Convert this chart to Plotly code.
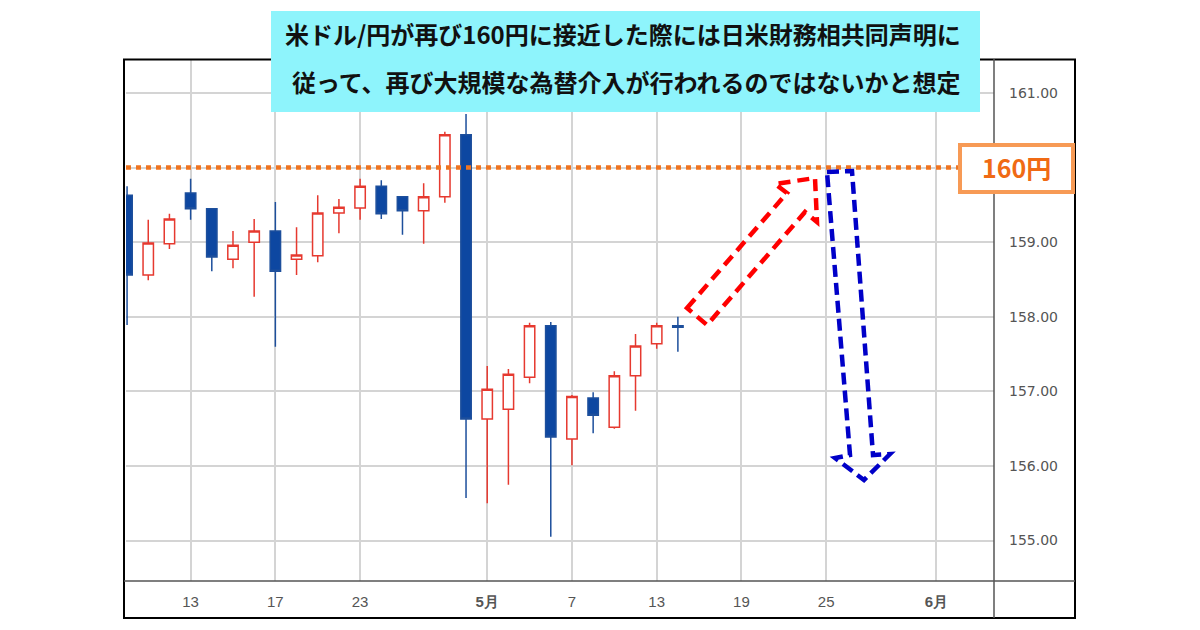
import plotly.graph_objects as go

# ---- data ----
idx = list(range(27))
opens  = [159.63,158.56,158.98,159.66,159.45,158.77,159.00,159.15,158.77,158.82,159.39,159.46,159.75,159.61,159.42,159.61,160.44,156.63,156.76,157.19,157.88,156.36,156.91,156.52,157.21,157.64,157.88]
highs  = [159.75,159.30,159.38,159.85,159.46,159.15,159.31,159.54,159.20,159.63,159.58,159.85,159.83,159.62,159.79,160.48,160.72,157.34,157.30,157.92,157.93,156.95,156.99,157.27,157.77,157.92,158.00]
lows   = [157.89,158.49,158.91,159.30,158.61,158.65,158.27,157.60,158.56,158.73,159.12,159.30,159.31,159.10,158.98,159.53,155.57,155.50,155.75,157.11,155.05,156.01,156.44,156.50,156.74,157.57,157.53]
closes = [158.56,158.99,159.31,159.45,158.80,158.96,159.15,158.61,158.83,159.39,159.47,159.75,159.38,159.42,159.61,160.44,156.63,157.03,157.23,157.88,156.39,156.93,156.68,157.21,157.61,157.88,157.86]

x_tick_pos = [3, 7, 11, 17, 21, 25, 29, 33, 38.2]
x_tick_labels = ['13', '17', '23', '<b>5月</b>', '7', '13', '19', '25', '<b>6月</b>']
y_tick_vals = [155, 156, 157, 158, 159, 160, 161]
y_tick_labels = ['155.00', '156.00', '157.00', '158.00', '159.00', '', '161.00']

level = 160
level_label = '160円'
title_lines = ['米ドル/円が再び160円に接近した際には日米財務相共同声明に',
               '従って、再び大規模な為替介入が行われるのではないかと想定']

# ---- layout geometry (pixels, in page coordinates) ----
OFF = 8                      # page body margin
W, H = 1200 - OFF, 630 - OFF
L, R, T, B = 126, 994, 59, 581

def px(x):
    return (x - L) / (R - L)

def py(y):
    return (B - y) / (B - T)

def path(points):
    return 'M ' + ' L '.join(f'{px(a):.5f},{py(b):.5f}' for a, b in points) + ' Z'

fig = go.Figure()
fig.add_trace(go.Candlestick(
    x=idx, open=opens, high=highs, low=lows, close=closes,
    increasing=dict(line=dict(color='#e6392f', width=1.5), fillcolor='#ffffff'),
    decreasing=dict(line=dict(color='#1d4f9c', width=1.5), fillcolor='#0d47a1'),
    whiskerwidth=0, showlegend=False, hoverinfo='skip'))

shapes = []
# outer frame
shapes.append(dict(type='rect', xref='paper', yref='paper', x0=px(124), x1=px(1075), y0=py(618), y1=py(59.5),
                   line=dict(color='#000000', width=2), layer='above'))
# x axis line
shapes.append(dict(type='line', xref='paper', yref='paper', x0=px(124), x1=px(1075), y0=py(581), y1=py(581),
                   line=dict(color='#555555', width=1.5), layer='above'))
# y axis line
shapes.append(dict(type='line', xref='paper', yref='paper', x0=px(994), x1=px(994), y0=py(618), y1=py(59),
                   line=dict(color='#555555', width=1.5), layer='above'))
# orange dotted level line
shapes.append(dict(type='line', xref='paper', yref='y', x0=0, x1=px(959), y0=level, y1=level,
                   line=dict(color='#f07420', width=4.5, dash='5px,5px'), layer='above'))
# level label box
shapes.append(dict(type='rect', xref='paper', yref='paper', x0=px(960), x1=px(1073), y0=py(192), y1=py(145),
                   fillcolor='#ffffff', line=dict(color='#f79a55', width=4), layer='above'))
# title box
shapes.append(dict(type='rect', xref='paper', yref='paper', x0=px(271), x1=px(980), y0=py(112), y1=py(11),
                   fillcolor='#8ef4fc', line=dict(width=0), layer='above'))
# red up arrow (outline, dashed)
shapes.append(dict(type='path', xref='paper', yref='paper',
                   path=path([(687, 308), (787, 193), (775, 184), (815, 178), (817, 222), (805, 212), (707, 325)]),
                   line=dict(color='#ff0000', width=4.5, dash='12px,7px'), fillcolor='rgba(0,0,0,0)', layer='above'))
# blue down arrow (outline, dashed)
shapes.append(dict(type='path', xref='paper', yref='paper',
                   path=path([(827, 172), (852, 171), (873, 455), (890, 454), (864, 480), (835, 458), (850, 455)]),
                   line=dict(color='#0000c8', width=4.5, dash='12px,6px'), fillcolor='rgba(0,0,0,0)', layer='above'))

title_font = dict(family='Noto Sans CJK JP', size=24, color='#111111', weight=700)
annotations = [
    dict(xref='paper', yref='paper', x=px(623), y=py(33), text=title_lines[0], showarrow=False,
         font=title_font, xanchor='center', yanchor='middle'),
    dict(xref='paper', yref='paper', x=px(626), y=py(81), text=title_lines[1], showarrow=False,
         font=title_font, xanchor='center', yanchor='middle'),
    dict(xref='paper', yref='paper', x=px(1016), y=py(167), text=level_label, showarrow=False,
         font=dict(family='Noto Sans CJK JP', size=25, color='#f06a14', weight=700), xanchor='center', yanchor='middle'),
]

fig.update_layout(
    width=W, height=H,
    margin=dict(l=L - OFF, r=(1200 - R), t=T - OFF, b=(630 - B), pad=0),
    paper_bgcolor='#ffffff', plot_bgcolor='#ffffff',
    shapes=shapes, annotations=annotations,
    xaxis=dict(range=[-0.05, (R - 127.3) / 21.18], tickvals=x_tick_pos, ticktext=x_tick_labels,
               showgrid=True, gridcolor='#d4d4d4', gridwidth=1.5, zeroline=False, showline=False,
               ticks='', ticklabelstandoff=10, rangeslider=dict(visible=False), fixedrange=True,
               tickfont=dict(family='Liberation Sans Narrow, Liberation Sans, sans-serif', size=15, color='#555555')),
    yaxis=dict(range=[154.458, 161.456], side='right', tickvals=y_tick_vals, ticktext=y_tick_labels,
               showgrid=True, gridcolor='#d4d4d4', gridwidth=1.5, zeroline=False, showline=False,
               ticks='', ticklabelstandoff=14,
               tickfont=dict(family='DejaVu Sans', size=14, color='#555555')),
    showlegend=False,
)

fig.write_html('out.html')
